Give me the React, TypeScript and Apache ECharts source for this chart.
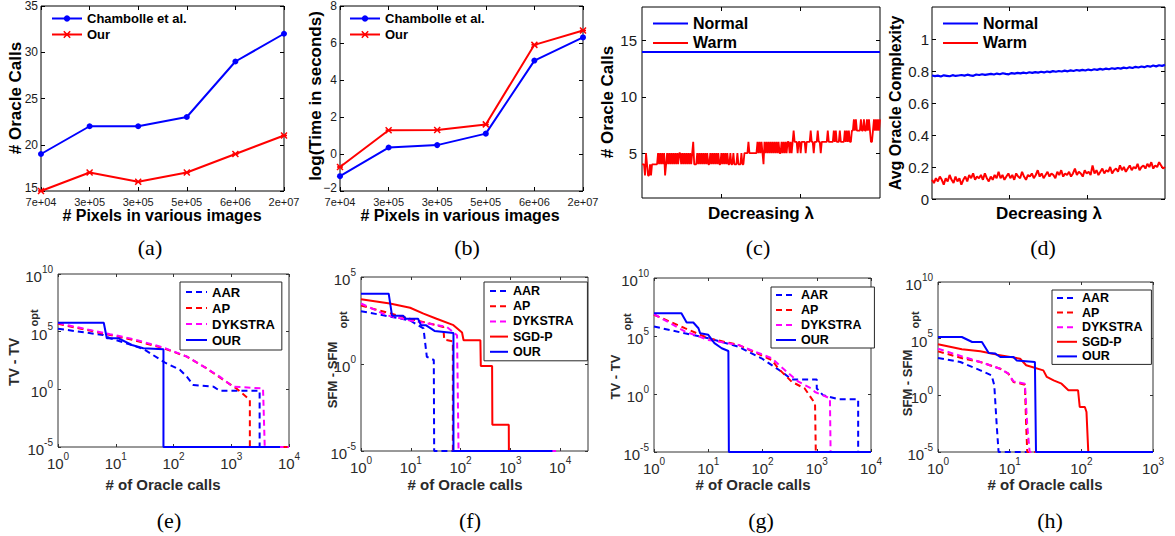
import React, { useEffect, useRef } from 'react';
import * as echarts from 'echarts';

const FONT = "'Liberation Sans', Arial, Helvetica, sans-serif";
const SERIF = "'Liberation Serif', 'Times New Roman', serif";
const BLUE = '#0000ff';
const RED = '#ff0000';
const MAG = '#ff00ff';
const DASH = [6, 4];

// ---------- (a), (b) ----------
const pixelLabels = ['7e+04', '3e+05', '3e+05', '5e+05', '6e+06', '2e+07'];
const callsChambolle = [19, 22, 22, 23, 29, 32];
const callsOur = [15, 17, 16, 17, 19, 21];
const timeChambolle = [-1.2, 0.35, 0.48, 1.1, 5.05, 6.3];
const timeOur = [-0.7, 1.28, 1.3, 1.6, 5.9, 6.68];

// ---------- (c) ----------
const normalCalls = [14, 14];
const warmCalls = [
  4, 4, 4, 3, 5, 4, 3, 3, 4, 3,
  4, 4, 4, 4, 4, 4, 5, 4, 5, 4,
  5, 4, 5, 3, 4, 5, 4, 5, 4, 5,
  4, 5, 4, 5, 4, 5, 4, 5, 5, 4,
  5, 4, 5, 4, 5, 4, 5, 4, 5, 4,
  5, 6, 4, 4, 4, 5, 4, 5, 4, 5,
  4, 5, 4, 5, 4, 5, 4, 4, 5, 4,
  5, 4, 5, 4, 5, 4, 5, 4, 4, 5,
  4, 5, 4, 5, 4, 5, 4, 4, 5, 4,
  4, 5, 4, 4, 4, 5, 4, 4, 4, 5,
  4, 4, 5, 5, 5, 5, 6, 5, 5, 5,
  5, 5, 5, 5, 5, 6, 5, 6, 5, 6,
  5, 4, 6, 5, 6, 5, 6, 5, 6, 5,
  6, 5, 6, 5, 6, 5, 6, 5, 5, 6,
  5, 6, 5, 6, 5, 6, 6, 5, 6, 5,
  6, 7, 6, 6, 6, 5, 6, 6, 5, 6,
  6, 6, 6, 5, 6, 6, 6, 6, 7, 6,
  6, 5, 6, 6, 6, 7, 6, 6, 5, 6,
  6, 6, 6, 6, 6, 7, 6, 6, 6, 6,
  6, 7, 6, 7, 6, 6, 6, 7, 6, 6,
  6, 6, 7, 6, 7, 6, 7, 6, 6, 7,
  7, 8, 7, 8, 7, 7, 7, 7, 8, 7,
  7, 8, 7, 7, 8, 7, 8, 7, 6, 6,
  7, 8, 7, 8, 7, 8, 7, 8,
];

// ---------- (d) ----------
const normalComplexity = [
  0.772, 0.768, 0.771, 0.766, 0.773, 0.770, 0.767, 0.774, 0.769, 0.772,
  0.775, 0.771, 0.777, 0.773, 0.770, 0.778, 0.775, 0.780, 0.776, 0.779,
  0.782, 0.778, 0.784, 0.780, 0.786, 0.782, 0.779, 0.787, 0.784, 0.788,
  0.785, 0.790, 0.786, 0.792, 0.788, 0.793, 0.790, 0.795, 0.791, 0.797,
  0.793, 0.799, 0.795, 0.800, 0.797, 0.802, 0.798, 0.804, 0.800, 0.806,
  0.802, 0.807, 0.803, 0.809, 0.805, 0.811, 0.807, 0.813, 0.809, 0.815,
  0.811, 0.817, 0.813, 0.819, 0.815, 0.821, 0.817, 0.823, 0.819, 0.826,
  0.822, 0.828, 0.824, 0.831, 0.827, 0.834, 0.829, 0.836, 0.832, 0.838,
];
const warmComplexity = [
  0.12, 0.10, 0.13, 0.11, 0.14, 0.12, 0.09, 0.13, 0.11, 0.15,
  0.12, 0.10, 0.14, 0.11, 0.13, 0.09, 0.12, 0.14, 0.11, 0.15,
  0.13, 0.16, 0.12, 0.14, 0.13, 0.15, 0.12, 0.16, 0.13, 0.11,
  0.14, 0.12, 0.15, 0.13, 0.17, 0.13, 0.15, 0.12, 0.14, 0.16,
  0.13, 0.15, 0.12, 0.16, 0.14, 0.13, 0.17, 0.14, 0.12, 0.15,
  0.14, 0.16, 0.13, 0.15, 0.18, 0.14, 0.16, 0.13, 0.15, 0.17,
  0.14, 0.16, 0.15, 0.13, 0.17, 0.15, 0.18, 0.14, 0.16, 0.15,
  0.17, 0.14, 0.16, 0.19, 0.15, 0.17, 0.16, 0.14, 0.18, 0.16,
  0.17, 0.15, 0.21, 0.16, 0.18, 0.15, 0.17, 0.19, 0.16, 0.18,
  0.17, 0.20, 0.16, 0.18, 0.19, 0.17, 0.21, 0.18, 0.20, 0.17,
  0.19, 0.21, 0.18, 0.20, 0.19, 0.22, 0.18, 0.20, 0.21, 0.19,
  0.22, 0.20, 0.23, 0.19, 0.21, 0.20, 0.23, 0.21, 0.19, 0.20,
];

// ---------- (e) TV, oracle calls vs gap ----------
const eAAR = [[1, 1.8e5], [6, 5.2e4], [8, 2.7e4], [15, 1e4], [30, 3.2e3], [70, 2.2e2], [130, 48], [170, 12.6], [220, 2.4], [490, 1.7], [630, 0.76], [3100, 0.76], [3100, 1e-5], [10000, 1e-5]];
const eAP = [[1, 4.8e5], [8, 5.2e4], [20, 1.9e4], [67, 3.7e3], [170, 6.9e2], [370, 68], [730, 6.5], [1230, 1.2], [2100, 0.12], [2100, 1e-5], [10000, 1e-5]];
const eDYK = [[1, 5.5e5], [8, 6e4], [20, 2.3e4], [67, 4.2e3], [170, 7e2], [370, 68], [630, 12.6], [1070, 1.7], [3550, 1.2], [3800, 1e-5], [10000, 1e-5]];
const eOUR = [[1, 6e5], [6.2, 6e5], [7, 2.7e4], [11, 2.7e4], [19, 7e3], [30, 3.7e3], [67, 3e3], [67, 1e-5], [7000, 1e-5]];

// ---------- (f) SFM ----------
const fAAR = [[1, 1.07e3], [2.8, 6.3e2], [9.7, 3.2e2], [18, 1.1e2], [21, 2.6], [29, 1.7], [29.5, 1e-5], [7000, 1e-5]];
const fAP = [[1, 2.3e3], [9.7, 4e2], [45, 1.35e2], [47, 25], [70, 20], [70, 1e-5], [7000, 1e-5]];
const fDYK = [[1, 3e3], [3.3, 6.3e2], [9.7, 3.2e2], [53, 1.35e2], [85, 45], [91, 1e-5], [10000, 1e-5]];
const fSGD = [[1, 5.2e3], [3.8, 3e3], [9.7, 1.7e3], [18, 7.9e2], [33, 4e2], [72, 1.7e2], [107, 65], [115, 23], [250, 23], [255, 0.76], [430, 0.76], [435, 3.2e-4], [930, 3.2e-4], [935, 1e-5]];
const fOUR = [[1, 1.1e4], [3.6, 1.1e4], [4.2, 6e2], [7, 6e2], [8, 4e2], [14, 4e2], [16, 1.7e2], [20, 1.7e2], [30, 80], [72, 60], [72, 1e-5], [7000, 1e-5]];

// ---------- (g) TV ----------
const gAAR = [[1, 6.6e5], [3.7, 1.7e5], [10, 6.5e4], [36, 1.2e4], [96, 1.2e3], [225, 83], [345, 18], [1000, 18], [1000, 3], [1300, 0.8], [2500, 0.36], [5800, 0.36], [5800, 1e-5], [10000, 1e-5]];
const gAP = [[1, 6.8e6], [3.7, 4.7e5], [10, 6.5e4], [36, 1.7e4], [148, 8.5e2], [195, 1.6e2], [345, 11.5], [600, 3], [930, 0.15], [960, 1e-5], [10000, 1e-5]];
const gDYK = [[1, 7.6e6], [3.7, 2.5e5], [10, 4.6e4], [36, 1.7e4], [148, 1.2e3], [280, 83], [460, 11.5], [800, 3], [930, 1.5], [1750, 0.42], [1800, 1e-5], [10000, 1e-5]];
const gOUR = [[1, 9.3e6], [3.2, 9.3e6], [4, 1.45e6], [5.3, 1.45e6], [6.6, 4.7e5], [7.1, 1.7e5], [10, 1.26e5], [13, 2.4e4], [17.7, 8.7e3], [23.5, 5.1e3], [24, 1e-5], [10000, 1e-5]];

// ---------- (h) SFM ----------
const hAAR = [[1, 1.95e3], [2.05, 8.7e2], [3.9, 1.6e2], [5.6, 58], [6.1, 7.6], [6.6, 2.2e-3], [7, 1e-5], [1000, 1e-5]];
const hAP = [[1, 7.6e3], [2.3, 1.7e3], [3.9, 8.7e2], [7.4, 2.2e2], [9.6, 81], [11.3, 15], [16.3, 8.7], [17, 2.2e-3], [17.6, 1e-5], [1000, 1e-5]];
const hDYK = [[1, 1.3e4], [2.3, 2.4e3], [3.9, 8.7e2], [7.4, 2.2e2], [9.6, 81], [11.3, 17], [16.3, 10.7], [17.6, 2.2e-3], [19, 1e-5], [1000, 1e-5]];
const hSGD = [[1, 3.2e4], [2.15, 1.15e4], [3.9, 7.6e3], [6.6, 3.9e3], [14, 1.7e3], [17, 4.5e2], [29.5, 1.6e2], [33, 42], [41, 21], [53, 10.7], [66, 2.8], [90, 2.8], [95, 0.093], [112, 0.093], [118, 0.034], [125, 1e-5]];
const hOUR = [[1, 1.4e5], [2.15, 1.4e5], [3, 5.1e4], [4.1, 5.1e4], [5.1, 5.5e3], [6.3, 4.8e3], [7.4, 2.4e3], [11.3, 2.4e3], [12.5, 1.2e3], [22.5, 8.7e2], [23.3, 1e-5], [1000, 1e-5]];

const yTicksTV = [1e-5, 1, 1e5, 1e10];
const yTicksSFMf = [1e-5, 1, 1e5];
const xTicks4 = [1, 10, 100, 1000, 10000];
const xTicks3 = [1, 10, 100, 1000];
const lambdaTicks = [1 / 3, 2 / 3];
const callTicks = [5, 10, 15];

// ---------- helpers ----------
const TOP_TXT = '#1a1a1a';
const BOT_TXT = '#2a2a2a';
const XMARK = 'path://M0,0L10,10M10,0L0,10M0,5L10,5';

const logLabel = (v: number) => {
  const e = Math.log10(v);
  const r = Math.round(e);
  if (Math.abs(e - r) > 1e-6) return '';
  return `{b|10}{s|${r}}`;
};
const logRich = {
  b: { fontSize: 15, fontFamily: FONT, color: BOT_TXT, lineHeight: 20, verticalAlign: 'bottom' },
  s: { fontSize: 10, fontFamily: FONT, color: BOT_TXT, lineHeight: 10, verticalAlign: 'top' },
};
// the lowest y label of (a) and (b) sits a little higher, clear of the first x label
const lowRich = {
  lo: { fontSize: 12, fontFamily: FONT, color: TOP_TXT, lineHeight: 10, padding: [0, 0, 6, 0] },
};

type AxisCfg = {
  type: 'value' | 'log';
  min: number;
  max: number;
  interval?: number;
  custom?: number[];
  labels: boolean;
  formatter?: any;
  rich?: any;
  fontSize: number;
  lineHeight?: number;
  color: string;
  margin: number;
  tickLen: number;
  showMaxLabel?: boolean;
};

function buildOption() {
  const option: any = {
    animation: false,
    backgroundColor: '#ffffff',
    grid: [] as any[],
    xAxis: [] as any[],
    yAxis: [] as any[],
    series: [] as any[],
    legend: [] as any[],
    graphic: { elements: [] as any[] },
  };

  const addPanel = (box: number[], x: AxisCfg, y: AxisCfg, frame: string) => {
    const g = option.grid.length;
    option.grid.push({
      left: box[0], top: box[1], width: box[2], height: box[3],
      show: true, borderColor: frame, borderWidth: 1, backgroundColor: 'rgba(0,0,0,0)',
    });
    const axis = (c: AxisCfg, position: string, withLabels: boolean) => {
      const a: any = {
        type: c.type, gridIndex: g, position, min: c.min, max: c.max,
        splitLine: { show: false }, axisLine: { show: false, onZero: false }, minorTick: { show: false },
        axisTick: { show: true, inside: true, length: c.tickLen, lineStyle: { color: frame, width: 1 } },
        axisLabel: {
          show: withLabels, fontSize: c.fontSize, fontFamily: FONT, color: c.color, margin: c.margin,
          formatter: c.formatter, rich: c.rich, hideOverlap: false,
        },
      };
      if (c.lineHeight) a.axisLabel.lineHeight = c.lineHeight;
      if (c.showMaxLabel === false) a.axisLabel.showMaxLabel = false;
      if (c.type === 'log') a.logBase = 10;
      if (c.interval != null) a.interval = c.interval;
      if (c.custom) {
        a.axisTick.customValues = c.custom;
        a.axisLabel.customValues = c.custom;
      }
      return a;
    };
    option.xAxis.push(axis(x, 'bottom', x.labels), axis(x, 'top', false));
    option.yAxis.push(axis(y, 'left', y.labels), axis(y, 'right', false));
    return g * 2;
  };

  const addLine = (ai: number, name: string, data: any[], color: string, opt: any = {}) => {
    option.series.push({
      type: 'line', name, xAxisIndex: ai, yAxisIndex: ai, data,
      symbol: opt.symbol ?? 'none', symbolSize: opt.symbolSize ?? 6, showSymbol: !!opt.symbol,
      lineStyle: { color, width: opt.width ?? 2, type: opt.dash ? DASH : 'solid' },
      itemStyle: { color, borderColor: color, borderWidth: opt.borderWidth ?? 0 },
      silent: true, clip: true,
    });
  };

  const topX = (fmt: any): AxisCfg => ({
    type: 'value', min: 0, max: 5, interval: 1, labels: true, formatter: fmt,
    fontSize: 11, lineHeight: 10, color: TOP_TXT, margin: 6, tickLen: 4,
  });

  // (a)
  const pixFmt = (v: number) => pixelLabels[Math.round(v)] ?? '';
  let ai = addPanel([41, 6, 243, 185], topX(pixFmt),
    { type: 'value', min: 15, max: 35, interval: 5, labels: true, fontSize: 12, lineHeight: 10, color: TOP_TXT, margin: 3, tickLen: 4,
      rich: lowRich, formatter: (v: number) => (v === 15 ? `{lo|${v}}` : String(v)) }, '#000');
  addLine(ai, 'Chambolle et al.', callsChambolle.map((v, i) => [i, v]), BLUE, { symbol: 'circle', symbolSize: 6 });
  addLine(ai, 'Our', callsOur.map((v, i) => [i, v]), RED, { symbol: XMARK, symbolSize: 6, borderWidth: 1.5 });

  // (b)
  ai = addPanel([340, 6, 243, 185], topX(pixFmt),
    { type: 'value', min: -2, max: 8, interval: 2, labels: true, fontSize: 12, lineHeight: 10, color: TOP_TXT, margin: 3, tickLen: 4,
      rich: lowRich,
      formatter: (v: number) => {
        const s = String(v).replace('-', '\u2212');
        return v === -2 ? `{lo|${s}}` : s;
      } }, '#000');
  addLine(ai, 'Chambolle et al.', timeChambolle.map((v, i) => [i, v]), BLUE, { symbol: 'circle', symbolSize: 6 });
  addLine(ai, 'Our', timeOur.map((v, i) => [i, v]), RED, { symbol: XMARK, symbolSize: 6, borderWidth: 1.5 });

  const lamX: AxisCfg = { type: 'value', min: 0, max: 1, custom: lambdaTicks, labels: false, fontSize: 12, color: TOP_TXT, margin: 4, tickLen: 4 };

  // (c)
  ai = addPanel([642, 7, 238, 191], lamX,
    { type: 'value', min: 1, max: 18, custom: callTicks, labels: true, fontSize: 15, color: TOP_TXT, margin: 5, tickLen: 4 }, '#000');
  addLine(ai, 'Normal', normalCalls.map((v, i) => [i / (normalCalls.length - 1), v]), BLUE);
  addLine(ai, 'Warm', warmCalls.map((v, i) => [i / (warmCalls.length - 1), v]), RED, { width: 1.8 });

  // (d)
  ai = addPanel([932, 7, 233, 192], lamX,
    { type: 'value', min: 0, max: 1.2, interval: 0.2, showMaxLabel: false, labels: true, fontSize: 15, color: TOP_TXT, margin: 3, tickLen: 4 }, '#000');
  addLine(ai, 'Normal', normalComplexity.map((v, i) => [i / (normalComplexity.length - 1), v]), BLUE, { width: 2.2 });
  addLine(ai, 'Warm', warmComplexity.map((v, i) => [i / (warmComplexity.length - 1), v]), RED, { width: 2 });

  const FR = '#333333';
  const logX = (max: number, custom: number[]): AxisCfg => ({
    type: 'log', min: 1, max, custom, labels: true, formatter: logLabel, rich: logRich,
    fontSize: 15, color: BOT_TXT, margin: 4, tickLen: 3,
  });
  const logY = (max: number, custom: number[]): AxisCfg => ({
    type: 'log', min: 1e-5, max, custom, labels: true, formatter: logLabel, rich: logRich,
    fontSize: 15, color: BOT_TXT, margin: 5, tickLen: 3,
  });

  // (e)
  ai = addPanel([58, 274, 231, 173], logX(1e4, xTicks4), logY(1e10, yTicksTV), FR);
  addLine(ai, 'AAR', eAAR, BLUE, { dash: true });
  addLine(ai, 'AP', eAP, RED, { dash: true });
  addLine(ai, 'DYKSTRA', eDYK, MAG, { dash: true });
  addLine(ai, 'OUR', eOUR, BLUE);

  // (f)
  ai = addPanel([361, 277, 227, 174], logX(36300, xTicks4), logY(1e5, yTicksSFMf), FR);
  addLine(ai, 'AAR', fAAR, BLUE, { dash: true });
  addLine(ai, 'AP', fAP, RED, { dash: true });
  addLine(ai, 'DYKSTRA', fDYK, MAG, { dash: true });
  addLine(ai, 'SGD-P', fSGD, RED);
  addLine(ai, 'OUR', fOUR, BLUE);

  // (g)
  ai = addPanel([654, 278, 217, 174], logX(1e4, xTicks4), logY(1e10, yTicksTV), FR);
  addLine(ai, 'AAR', gAAR, BLUE, { dash: true });
  addLine(ai, 'AP', gAP, RED, { dash: true });
  addLine(ai, 'DYKSTRA', gDYK, MAG, { dash: true });
  addLine(ai, 'OUR', gOUR, BLUE);

  // (h)
  ai = addPanel([938, 282, 215, 170], logX(1e3, xTicks3), logY(1e10, yTicksTV), FR);
  addLine(ai, 'AAR', hAAR, BLUE, { dash: true });
  addLine(ai, 'AP', hAP, RED, { dash: true });
  addLine(ai, 'DYKSTRA', hDYK, MAG, { dash: true });
  addLine(ai, 'SGD-P', hSGD, RED);
  addLine(ai, 'OUR', hOUR, BLUE);

  // ---------- legends ----------
  const markerLegend = (left: number, top: number) => ({
    left, top, orient: 'vertical',
    data: [
      { name: 'Chambolle et al.', itemStyle: { color: BLUE } },
      { name: 'Our', itemStyle: { color: RED, borderColor: RED, borderWidth: 1.5 } },
    ],
    itemWidth: 30, itemHeight: 8, itemGap: 3, padding: 0, selectedMode: false,
    textStyle: { fontSize: 13, fontWeight: 'bold', fontFamily: FONT, color: '#000', lineHeight: 12 },
  });
  const topLegend = (left: number, top: number, names: string[]) => ({
    left, top, orient: 'vertical', data: names, itemWidth: 35, itemHeight: 17, itemGap: 2.4, padding: 0,
    selectedMode: false,
    itemStyle: { opacity: 0 },
    textStyle: { fontSize: 16, fontWeight: 'bold', fontFamily: FONT, color: '#000', lineHeight: 17 },
  });
  const boxLegend = (left: number, top: number, names: string[], itemWidth: number, fontSize: number, gap: number, padding: number[]) => ({
    left, top, orient: 'vertical', data: names, itemWidth, itemHeight: 14, itemGap: gap, padding,
    selectedMode: false, backgroundColor: '#ffffff', borderColor: '#262626', borderWidth: 1,
    itemStyle: { opacity: 0 },
    textStyle: { fontSize, fontWeight: 'bold', fontFamily: FONT, color: '#000', lineHeight: 14 },
  });
  option.legend.push(
    markerLegend(51, 12),
    markerLegend(349, 12),
    topLegend(652, 15, ['Normal', 'Warm']),
    topLegend(942, 15, ['Normal', 'Warm']),
    boxLegend(180, 282, ['AAR', 'AP', 'DYKSTRA', 'OUR'], 21, 13, 2, [3, 7, 3, 5]),
    boxLegend(484, 282, ['AAR', 'AP', 'DYKSTRA', 'SGD-P', 'OUR'], 18, 12.5, 1.2, [2, 14, 2, 5]),
    boxLegend(771, 287, ['AAR', 'AP', 'DYKSTRA', 'OUR'], 20, 12.5, 1, [1, 13, 1, 4]),
    boxLegend(1052, 290, ['AAR', 'AP', 'DYKSTRA', 'SGD-P', 'OUR'], 20, 12.5, 0.6, [1, 9, 1, 4]),
  );

  // ---------- texts ----------
  const T = (x: number, y: number, text: string, size: number, o: any = {}) => ({
    type: 'text', x, y, rotation: o.rot ? Math.PI / 2 : 0, silent: true, z: 10,
    style: {
      text, fontSize: size, fontWeight: o.serif ? 'normal' : 'bold', fontFamily: o.serif ? SERIF : FONT,
      fill: o.color ?? '#000', align: 'center', verticalAlign: 'middle', lineHeight: o.lh,
    },
  });
  const els = option.graphic.elements;
  els.push(
    T(15, 98, '# Oracle Calls', 17, { rot: true }),
    T(162, 215, '# Pixels in various images', 16, { lh: 14 }),
    T(315, 96, 'log(Time in seconds)', 17, { rot: true }),
    T(460, 215, '# Pixels in various images', 16, { lh: 14 }),
    T(607, 102, '# Oracle Calls', 17, { rot: true }),
    T(761, 213, 'Decreasing \u03bb', 17),
    T(895, 103, 'Avg Oracle Complexity', 16, { rot: true }),
    T(1049, 213, 'Decreasing \u03bb', 17),
    T(150, 247, '(a)', 22, { serif: true }),
    T(467, 247, '(b)', 22, { serif: true }),
    T(758, 247, '(c)', 22, { serif: true }),
    T(1043, 247, '(d)', 22, { serif: true }),

    T(14, 362, 'TV - TV', 14, { rot: true, color: BOT_TXT }),
    T(34, 318, 'opt', 11, { rot: true, color: BOT_TXT }),
    T(163, 484, '# of Oracle calls', 15, { color: BOT_TXT }),
    T(332, 375, 'SFM - SFM', 13, { rot: true, color: BOT_TXT }),
    T(343, 320, 'opt', 11, { rot: true, color: BOT_TXT }),
    T(465, 484, '# of Oracle calls', 15, { color: BOT_TXT }),
    T(615, 377, 'TV - TV', 13, { rot: true, color: BOT_TXT }),
    T(627, 322, 'opt', 11, { rot: true, color: BOT_TXT }),
    T(753, 484, '# of Oracle calls', 15, { color: BOT_TXT }),
    T(907, 383, 'SFM - SFM', 13, { rot: true, color: BOT_TXT }),
    T(915, 320, 'opt', 11, { rot: true, color: BOT_TXT }),
    T(1045, 484, '# of Oracle calls', 15, { color: BOT_TXT }),
    T(169, 520, '(e)', 22, { serif: true }),
    T(470, 520, '(f)', 22, { serif: true }),
    T(761, 520, '(g)', 22, { serif: true }),
    T(1050, 520, '(h)', 22, { serif: true }),
  );
  return option;
}

export default function App() {
  const ref = useRef<HTMLDivElement>(null);
  useEffect(() => {
    if (!ref.current) return;
    const chart = echarts.init(ref.current, undefined, { renderer: 'svg' });
    chart.setOption(buildOption());
    return () => chart.dispose();
  }, []);
  return (
    <div
      ref={ref}
      style={{ position: 'fixed', left: 0, top: 0, width: 1175, height: 536, background: '#fff' }}
    />
  );
}
